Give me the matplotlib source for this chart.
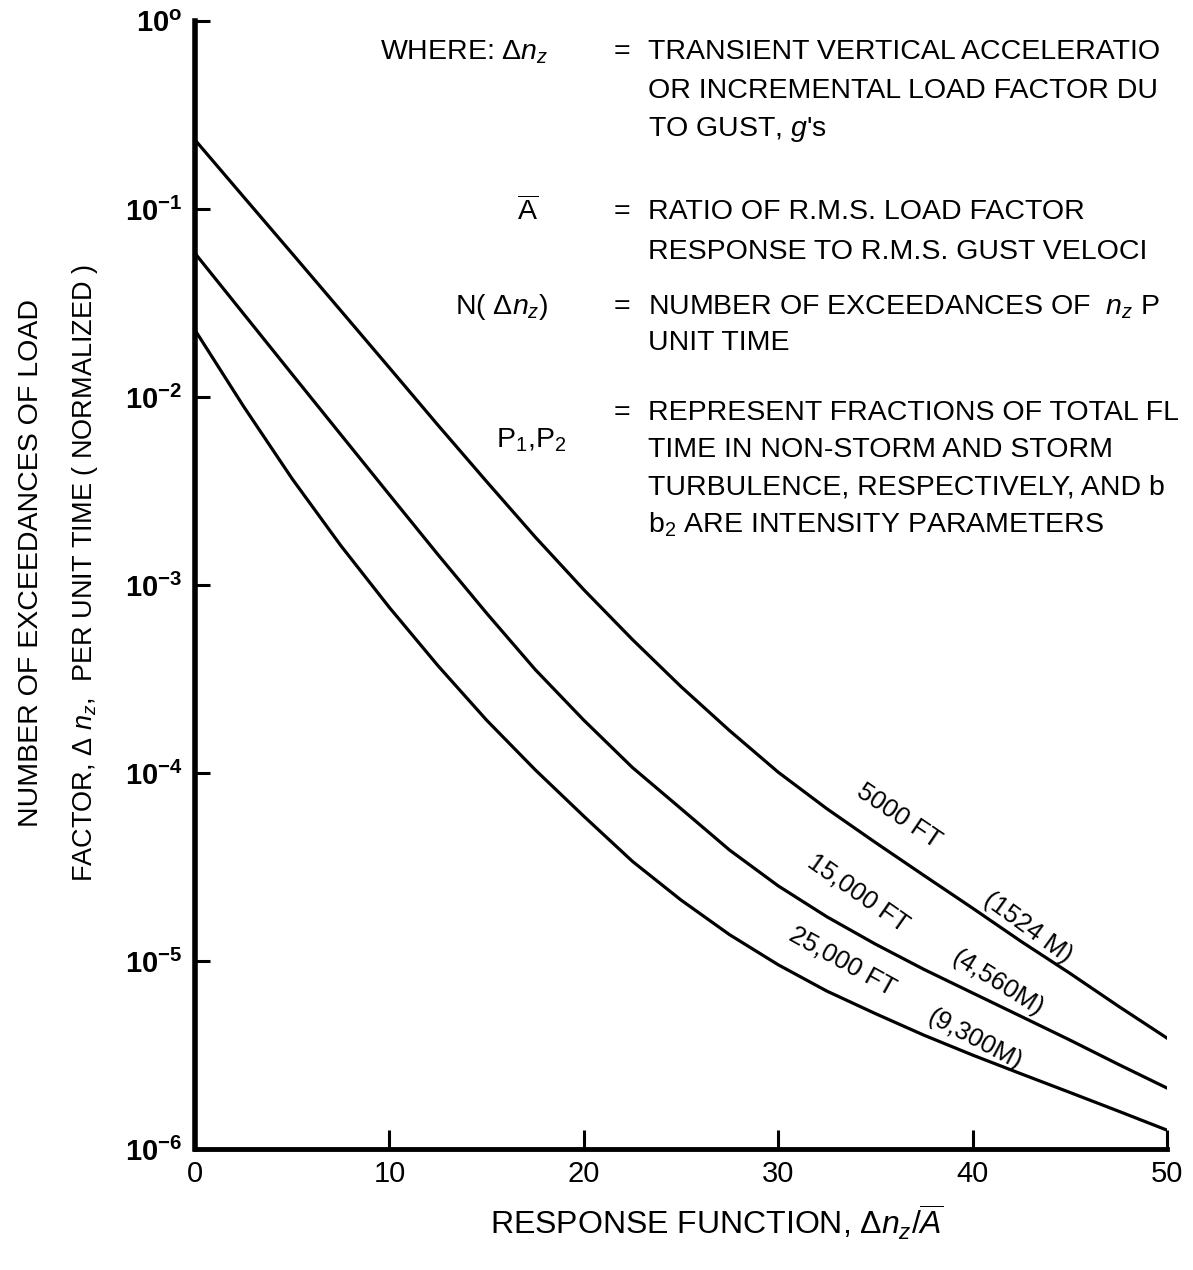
import matplotlib
matplotlib.use("Agg")
import matplotlib.pyplot as plt
from matplotlib.ticker import NullLocator

# ---------------- data ----------------
response = [0, 2.5, 5, 7.5, 10, 12.5, 15, 17.5, 20, 22.5, 25,
            27.5, 30, 32.5, 35, 37.5, 40, 42.5, 45, 47.5, 50]

exceed_5000ft = [2.33e-1, 1.16e-1, 5.79e-2, 2.88e-2, 1.43e-2, 7.08e-3, 3.55e-3,
                 1.80e-3, 9.44e-4, 5.13e-4, 2.88e-4, 1.68e-4, 1.01e-4, 6.46e-5,
                 4.27e-5, 2.85e-5, 1.91e-5, 1.27e-5, 8.61e-6, 5.75e-6, 3.89e-6]

exceed_15000ft = [5.81e-2, 2.77e-2, 1.32e-2, 6.31e-3, 3.02e-3, 1.45e-3, 7.08e-4,
                  3.55e-4, 1.91e-4, 1.07e-4, 6.46e-5, 3.89e-5, 2.51e-5, 1.72e-5,
                  1.23e-5, 9.02e-6, 6.76e-6, 5.07e-6, 3.80e-6, 2.82e-6, 2.11e-6]

exceed_25000ft = [2.27e-2, 8.91e-3, 3.67e-3, 1.62e-3, 7.59e-4, 3.72e-4, 1.91e-4,
                  1.04e-4, 5.89e-5, 3.39e-5, 2.11e-5, 1.38e-5, 9.55e-6, 6.92e-6,
                  5.25e-6, 4.03e-6, 3.16e-6, 2.51e-6, 2.00e-6, 1.59e-6, 1.26e-6]

x_ticks = [0, 10, 20, 30, 40, 50]
y_ticks = [1e-6, 1e-5, 1e-4, 1e-3, 1e-2, 1e-1, 1e0]
y_tick_labels = [r"$\mathbf{10^{-6}}$", r"$\mathbf{10^{-5}}$",
                 r"$\mathbf{10^{-4}}$", r"$\mathbf{10^{-3}}$",
                 r"$\mathbf{10^{-2}}$", r"$\mathbf{10^{-1}}$",
                 r"$\mathbf{10^{o}}$"]

curve_labels_ft = ["5000 FT", "15,000 FT", "25,000 FT"]
curve_labels_m = ["(1524 M)", "(4,560M)", "(9,300M)"]

# ---------------- fonts ----------------
FAM = "Liberation Sans"
plt.rcParams["font.family"] = [FAM, "DejaVu Sans"]
plt.rcParams["mathtext.fontset"] = "custom"
plt.rcParams["mathtext.rm"] = FAM
plt.rcParams["mathtext.it"] = FAM + ":italic"
plt.rcParams["mathtext.bf"] = FAM + ":bold"
plt.rcParams["mathtext.sf"] = FAM

W, H = 1193, 1270
fig = plt.figure(figsize=(W / 100, H / 100), dpi=100)
fig.patch.set_facecolor("white")
ax = fig.add_axes([195 / W, 1 - 1149 / H, (1167 - 195) / W, (1149 - 21) / H])

for series in (exceed_5000ft, exceed_15000ft, exceed_25000ft):
    ax.plot(response, series, color="black", lw=2.3,
            solid_joinstyle="round")

ax.set_yscale("log")
ax.set_xlim(0, 50)
ax.set_ylim(1e-6, 1e0)
ax.set_xticks(x_ticks)
ax.set_xticklabels([str(t) for t in x_ticks])
ax.set_yticks(y_ticks)
ax.set_yticklabels(y_tick_labels)
ax.yaxis.set_minor_locator(NullLocator())
ax.xaxis.set_minor_locator(NullLocator())

for s in ("top", "right"):
    ax.spines[s].set_visible(False)
ax.spines["left"].set_linewidth(4)
ax.spines["bottom"].set_linewidth(3.5)

ax.tick_params(axis="y", direction="in", length=11, width=2.2, pad=9,
               labelsize=21)
ax.tick_params(axis="x", direction="in", length=14, width=2.2, pad=8,
               labelsize=21)

# ---------------- curve labels ----------------
lab_fs = 18.5
ax.text(36.2, 5.9e-5, curve_labels_ft[0], rotation=-34, ha="center",
        va="center", fontsize=lab_fs, rotation_mode="anchor")
ax.text(42.85, 1.5e-5, curve_labels_m[0], rotation=-36, ha="center",
        va="center", fontsize=lab_fs, rotation_mode="anchor")
ax.text(34.1, 2.3e-5, curve_labels_ft[1], rotation=-35, ha="center",
        va="center", fontsize=lab_fs, rotation_mode="anchor")
ax.text(41.3, 7.6e-6, curve_labels_m[1], rotation=-32, ha="center",
        va="center", fontsize=lab_fs, rotation_mode="anchor")
ax.text(33.3, 1.0e-5, curve_labels_ft[2], rotation=-29, ha="center",
        va="center", fontsize=lab_fs, rotation_mode="anchor")
ax.text(40.1, 3.8e-6, curve_labels_m[2], rotation=-28, ha="center",
        va="center", fontsize=lab_fs, rotation_mode="anchor")

# ---------------- axis titles ----------------
def ftxt(px, py, s, **kw):
    fig.text(px / W, 1 - py / H, s, **kw)

ftxt(31, 563, "NUMBER OF EXCEEDANCES OF LOAD", rotation=90, ha="center",
     va="center", fontsize=20.5)
ftxt(85, 573, r"FACTOR, $\Delta$ $n_z$,  PER UNIT TIME ( NORMALIZED )",
     rotation=90, ha="center", va="center", fontsize=19.5)
ftxt(717, 1222, r"RESPONSE FUNCTION, $\Delta n_z/\overline{A}$", ha="center",
     va="center", fontsize=23)

# ---------------- definitions block ----------------
t_fs = 20.5
ftxt(380, 52, r"WHERE: $\Delta n_z$", ha="left", va="center", fontsize=t_fs)
ftxt(538, 212, r"$\overline{\mathrm{A}}$", ha="right", va="center", fontsize=t_fs)
ftxt(548, 307, r"N( $\Delta n_z$)", ha="right", va="center", fontsize=t_fs)
ftxt(566, 440, r"P$_1$,P$_2$", ha="right", va="center", fontsize=t_fs)

for yy in (52, 212, 307, 413):
    ftxt(622, yy, "=", ha="center", va="center", fontsize=t_fs)

desc = [
    (52, "TRANSIENT VERTICAL ACCELERATIO"),
    (91, "OR INCREMENTAL LOAD FACTOR DU"),
    (130, r"TO GUST, $g$'s"),
    (212, "RATIO OF R.M.S. LOAD FACTOR"),
    (252, "RESPONSE TO R.M.S. GUST VELOCI"),
    (307, r"NUMBER OF EXCEEDANCES OF  $n_z$ P"),
    (343, "UNIT TIME"),
    (413, "REPRESENT FRACTIONS OF TOTAL FL"),
    (450, "TIME IN NON-STORM AND STORM"),
    (488, "TURBULENCE, RESPECTIVELY, AND b"),
    (525, r"b$_2$ ARE INTENSITY PARAMETERS"),
]
for yy, s in desc:
    ftxt(648, yy, s, ha="left", va="center", fontsize=t_fs)

fig.savefig("out.png", dpi=100)
